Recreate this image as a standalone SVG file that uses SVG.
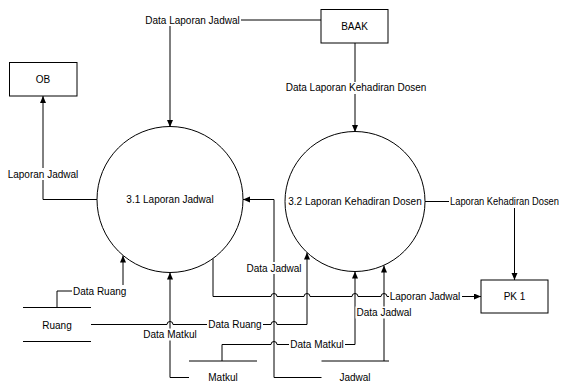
<svg xmlns="http://www.w3.org/2000/svg" width="566" height="390" viewBox="0 0 566 390">
<style>
text{font-family:"Liberation Sans",Arial,sans-serif;font-size:10px;fill:#000}
.c{text-anchor:middle}
.shape{fill:#fff;stroke:#000;stroke-width:1}
.ln{fill:none;stroke:#000;stroke-width:1}
.arr{fill:none;stroke:#000;stroke-width:1;marker-end:url(#ah)}
.bg{fill:#fff;stroke:none}
.st{stroke:#000;stroke-width:1}
</style>
<defs>
<marker id="ah" markerUnits="userSpaceOnUse" markerWidth="8" markerHeight="8" refX="7" refY="3" orient="auto">
<path d="M0,0 L7,3 L0,6 z" fill="#000"/>
</marker>
</defs>
<rect width="566" height="390" fill="#fff"/>

<g id="connectors">
<path class="arr" d="M321,20 H170 V127"/>
<path class="arr" d="M355,43 V132"/>
<path class="arr" d="M97,199.5 H43 V96"/>
<path class="arr" d="M425,201.5 H514.5 V280"/>
<path class="arr" d="M57,307.5 V291 H123 V255.5"/>
<path class="arr" d="M189,377.5 H170 V272.5"/>
<path class="arr" d="M91,324.5 H167 A3,3 0 0 1 173,324.5 H271 A3,3 0 0 1 277,324.5 H307 V252.5"/>
<path class="arr" d="M222,361 V344.5 H271 A3,3 0 0 1 277,344.5 H355 V271.5"/>
<path class="arr" d="M321.5,377.5 H274 V199.5 H243"/>
<path class="arr" d="M384,361 V265.5"/>
<path class="arr" d="M213,258.5 V296.5 H271 A3,3 0 0 1 277,296.5 H304 A3,3 0 0 1 310,296.5 H352 A3,3 0 0 1 358,296.5 H381 A3,3 0 0 1 387,296.5 H481"/>

<rect class="bg" x="144" y="13" width="97" height="13"/>
<text x="192.5" y="23.5" class="c">Data Laporan Jadwal</text>
<rect class="bg" x="285" y="82" width="142" height="12"/>
<text x="356" y="91" class="c">Data Laporan Kehadiran Dosen</text>
<rect class="bg" x="7" y="168" width="72" height="12"/>
<text x="43" y="177.5" class="c">Laporan Jadwal</text>
<rect class="bg" x="449" y="195" width="117" height="13"/>
<text x="450" y="205" textLength="109" lengthAdjust="spacingAndGlyphs">Laporan Kehadiran Dosen</text>
<rect class="bg" x="72" y="285" width="56" height="12"/>
<text x="73" y="294.5">Data Ruang</text>
<rect class="bg" x="142" y="328.5" width="56" height="12"/>
<text x="170" y="338" class="c">Data Matkul</text>
<rect class="bg" x="207" y="318" width="56" height="12"/>
<text x="235" y="328" class="c">Data Ruang</text>
<rect class="bg" x="289" y="338.5" width="56" height="12"/>
<text x="317" y="348" class="c">Data Matkul</text>
<rect class="bg" x="245.5" y="262" width="57" height="12"/>
<text x="274" y="271.5" class="c">Data Jadwal</text>
<rect class="bg" x="355.5" y="306.5" width="57" height="12"/>
<text x="384" y="316" class="c">Data Jadwal</text>
<rect class="bg" x="389" y="290.5" width="73" height="12"/>
<text x="425" y="300" class="c">Laporan Jadwal</text>
</g>

<g id="BAAK">
<rect class="shape" x="321" y="9.5" width="67" height="33.5"/>
<text x="354.5" y="30" class="c">BAAK</text>
</g>
<g id="OB">
<rect class="shape" x="9.5" y="62.5" width="67.5" height="33.5"/>
<text x="43" y="83" class="c">OB</text>
</g>
<g id="PK1">
<rect class="shape" x="481" y="280" width="67" height="33"/>
<text x="514.5" y="300" class="c">PK 1</text>
</g>
<g id="P3_1">
<circle class="shape" cx="170" cy="199.5" r="73"/>
<text x="170" y="203" class="c">3.1 Laporan Jadwal</text>
</g>
<g id="P3_2">
<circle class="shape" cx="355" cy="201.5" r="70"/>
<text x="355" y="205" class="c">3.2 Laporan Kehadiran Dosen</text>
</g>
<g id="Ruang">
<line class="st" x1="23" y1="307.5" x2="91" y2="307.5"/>
<line class="st" x1="23" y1="341.5" x2="91" y2="341.5"/>
<text x="57" y="328.5" class="c">Ruang</text>
</g>
<g id="Matkul">
<line class="st" x1="189" y1="361" x2="257" y2="361"/>
<text x="223" y="381" class="c">Matkul</text>
</g>
<g id="Jadwal">
<line class="st" x1="321.5" y1="361" x2="389" y2="361"/>
<text x="355" y="381" class="c">Jadwal</text>
</g>
</svg>
